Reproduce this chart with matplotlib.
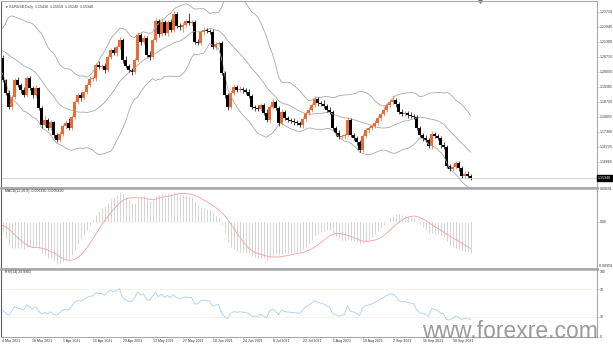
import numpy as np
import pandas as pd
import matplotlib
matplotlib.use("Agg")
import matplotlib.pyplot as plt

W, H = 613, 345

# daily closes before the visible window, only used to warm up the indicators
warmup_close = [1.2248, 1.2298, 1.2324, 1.2271, 1.2220, 1.2151, 1.2208, 1.2158, 1.2157, 1.2081,
                1.2076, 1.2132, 1.2107, 1.2164, 1.2170, 1.2141, 1.2159, 1.2110, 1.2124, 1.2136,
                1.2060, 1.2040, 1.2037, 1.1963, 1.2047, 1.2050, 1.2118, 1.2119, 1.2131, 1.2118,
                1.2128, 1.2105, 1.2040, 1.2091, 1.2120, 1.2157, 1.2150, 1.2167, 1.2176, 1.2075,
                1.2048, 1.2090, 1.2066]

first_open = 1.2066
close = [1.1969, 1.1911, 1.1849, 1.1893, 1.1969, 1.1947, 1.1924, 1.1902, 1.1978, 1.1933,
         1.1902, 1.1933, 1.1844, 1.1769, 1.1791, 1.1756, 1.1782, 1.1725, 1.1702, 1.1729,
         1.1765, 1.1778, 1.1756, 1.1805, 1.1871, 1.1902, 1.1889, 1.1915, 1.1947, 1.1973,
         1.1978, 1.2035, 1.2027, 1.2031, 1.2013, 1.2071, 1.2102, 1.2089, 1.2115, 1.2146,
         1.2058, 1.2031, 1.2013, 1.2004, 1.2058, 1.2169, 1.2138, 1.2155, 1.2080, 1.2071,
         1.2146, 1.2231, 1.2173, 1.2226, 1.2177, 1.2226, 1.2191, 1.2262, 1.2209, 1.2204,
         1.2213, 1.2231, 1.2222, 1.2226, 1.2138, 1.2133, 1.2182, 1.2191, 1.2186, 1.2182,
         1.2115, 1.2129, 1.2133, 1.2000, 1.1902, 1.1849, 1.1911, 1.1938, 1.1924, 1.1929,
         1.1924, 1.1915, 1.1898, 1.1849, 1.1844, 1.1840, 1.1858, 1.1822, 1.1791, 1.1849,
         1.1871, 1.1844, 1.1778, 1.1827, 1.1800, 1.1791, 1.1787, 1.1782, 1.1778, 1.1769,
         1.1796, 1.1822, 1.1836, 1.1858, 1.1884, 1.1867, 1.1862, 1.1853, 1.1836, 1.1827,
         1.1756, 1.1733, 1.1716, 1.1720, 1.1725, 1.1791, 1.1725, 1.1711, 1.1693, 1.1658,
         1.1720, 1.1747, 1.1756, 1.1765, 1.1778, 1.1800, 1.1818, 1.1836, 1.1858, 1.1871,
         1.1880, 1.1862, 1.1827, 1.1818, 1.1822, 1.1813, 1.1809, 1.1805, 1.1756, 1.1725,
         1.1711, 1.1702, 1.1676, 1.1729, 1.1720, 1.1711, 1.1680, 1.1671, 1.1587, 1.1574,
         1.1583, 1.1600, 1.1578, 1.1543, 1.1551, 1.1543, 1.1534]

# wick lengths in pips above / below the body
wick_hi = [12, 6, 14, 10, 8, 14, 8, 12, 9, 10, 7, 12, 5, 9, 22, 8, 10, 6, 8, 14,
           10, 12, 20, 8, 10, 9, 14, 7, 9, 12, 10, 8, 18, 9, 12, 7, 10, 12, 8, 14,
           10, 16, 9, 7, 8, 12, 10, 14, 9, 18, 10, 12, 8, 14, 10, 9, 12, 18, 10, 14,
           12, 10, 35, 9, 8, 14, 10, 12, 9, 10, 12, 8, 10, 9, 10, 8, 12, 14, 10, 12,
           9, 10, 14, 8, 10, 12, 9, 10, 16, 10, 18, 9, 10, 12, 8, 10, 9, 12, 10, 8,
           10, 9, 12, 10, 14, 8, 10, 16, 9, 12, 10, 8, 12, 9, 10, 12, 10, 9, 8, 10,
           12, 9, 10, 8, 12, 10, 9, 12, 10, 14, 22, 10, 8, 12, 9, 10, 12, 9, 8, 10,
           9, 12, 10, 14, 9, 10, 8, 12, 10, 9, 12, 10, 9, 10, 14, 12, 8]
wick_lo = [8, 10, 9, 14, 10, 8, 12, 9, 10, 8, 12, 9, 10, 12, 8, 10, 9, 12, 10, 9,
           8, 12, 10, 9, 8, 10, 12, 9, 10, 8, 9, 12, 8, 10, 14, 9, 10, 8, 12, 9,
           12, 10, 8, 14, 9, 10, 12, 9, 10, 14, 9, 10, 12, 8, 10, 12, 9, 10, 8, 12,
           20, 9, 10, 12, 10, 9, 8, 12, 10, 9, 10, 12, 9, 10, 12, 14, 10, 9, 8, 10,
           12, 9, 10, 8, 12, 10, 9, 10, 8, 12, 10, 9, 12, 10, 8, 9, 10, 12, 9, 10,
           12, 10, 9, 8, 10, 12, 9, 10, 8, 10, 9, 12, 10, 8, 12, 9, 10, 8, 12, 10,
           9, 10, 12, 8, 10, 9, 12, 10, 8, 9, 10, 12, 9, 10, 8, 12, 10, 9, 10, 8,
           12, 10, 9, 14, 10, 8, 12, 10, 9, 10, 8, 10, 12, 9, 10, 8, 10]

date_labels = ["4 Mar 2021", "18 Mar 2021", "1 Apr 2021", "15 Apr 2021", "29 Apr 2021",
               "13 May 2021", "27 May 2021", "10 Jun 2021", "24 Jun 2021", "8 Jul 2021",
               "22 Jul 2021", "5 Aug 2021", "19 Aug 2021", "2 Sep 2021", "16 Sep 2021",
               "30 Sep 2021"]

price_ticks = [1.22710, 1.22045, 1.21380, 1.20715, 1.20050, 1.19385,
               1.18720, 1.18055, 1.17390, 1.16725, 1.16060]

BULL = "#ee6a34"
BEAR = "#000000"
GRID = "#a8a8a8"
TXT = "#303030"
FS = 2.5
plt.rcParams["font.family"] = ["Liberation Sans", "DejaVu Sans"]

# ---- data + indicators ----
c = np.array(close)
n = len(c)
o = np.r_[first_open, c[:-1]]
hi = np.maximum(o, c) + np.array(wick_hi) / 10000
lo = np.minimum(o, c) - np.array(wick_lo) / 10000
x = np.arange(n)

full = pd.Series(warmup_close + close)
k = len(warmup_close)
mid = full.rolling(20).mean()
sd = full.rolling(20).std(ddof=0)
upper = (mid + 2 * sd).values[k:]
lower = (mid - 2 * sd).values[k:]
mid = mid.values[k:]

macd = full.ewm(span=12, adjust=False).mean() - full.ewm(span=26, adjust=False).mean()
signal = macd.rolling(9).mean()
macd = macd.values[k:]
signal = signal.values[k:]

d = full.diff()
up = d.clip(lower=0).ewm(alpha=1 / 14, adjust=False).mean()
dn = (-d.clip(upper=0)).ewm(alpha=1 / 14, adjust=False).mean()
rsi = (100 - 100 / (1 + up / dn)).values[k:]


def box(x0, y0, x1, y1):
    return [x0 / W, 1 - y1 / H, (x1 - x0) / W, (y1 - y0) / H]


fig = plt.figure(figsize=(W / 100, H / 100), dpi=100, facecolor="white")
ax = fig.add_axes(box(1, 1, 597, 188))
ax_m = fig.add_axes(box(1, 188, 597, 269))
ax_r = fig.add_axes(box(1, 269, 597, 337))

xlim = (-0.5, -0.5 + 596 / 3)
for a in (ax, ax_m, ax_r):
    a.set_xlim(*xlim)
    a.set_facecolor("white")
    for s in a.spines.values():
        s.set_color(GRID)
        s.set_linewidth(0.8)
    a.spines["left"].set_color("#606060")
    a.yaxis.tick_right()
    a.tick_params(axis="y", length=1.2, width=0.4, colors=GRID, labelsize=FS,
                  labelcolor=TXT, pad=0.6)
    a.set_xticks([])
ax_m.spines["top"].set_linewidth(1.8)
ax_r.spines["top"].set_linewidth(1.8)
ax.spines["bottom"].set_linewidth(1.8)
ax_m.spines["bottom"].set_linewidth(1.8)

# ---- main price window ----
ax.set_ylim(1.14893, 1.23196)
ax.plot(x, upper, color="#a8a8a8", lw=0.6)
ax.plot(x, mid, color="#a8a8a8", lw=0.6)
ax.plot(x, lower, color="#a8a8a8", lw=0.6)

cols = np.where(c >= o, BULL, BEAR)
ax.vlines(x, lo, hi, colors=cols, lw=0.5)
body = np.where(np.abs(c - o) < 0.0002, 0.0002, np.abs(c - o))
ax.bar(x, body, bottom=np.minimum(o, c), width=0.7, color=cols, linewidth=0)

bid = c[-1]
ax.axhline(bid, color="#c0c0c0", lw=0.5)
ax.set_yticks(price_ticks)
ax.set_yticklabels([f"{v:.5f}" for v in price_ticks])
ax.text(1.002, bid, f"{bid:.5f}", transform=ax.get_yaxis_transform(), fontsize=FS,
        color="white", va="center", ha="left",
        bbox=dict(boxstyle="square,pad=0.2", fc="black", ec="black"))
ax.text(0.006, 0.978, "\u25bc EURUSD,Daily  " + "  ".join(f"{v:.5f}" for v in (o[-1], hi[-1], lo[-1], c[-1])),
        transform=ax.transAxes, fontsize=FS, color=TXT, va="top", ha="left")
ax.plot([n + 2], [1.2318], marker="v", color="#707070", ms=2.5, clip_on=False)

# ---- MACD window ----
ax_m.vlines(x, 0, macd, colors="#c4c4c4", lw=0.5)
ax_m.plot(x, signal, color="#f2a0a0", lw=0.6)
mtop, mbot = np.nanmax(macd) * 1.12, np.nanmin(macd) * 1.12
ax_m.set_ylim(mbot, mtop)
ax_m.set_yticks([mtop, 0])
ax_m.set_yticklabels([f"{mtop:.5f}", "0.00"])
ax_m.text(1.003, 0.01, f"{mbot:.5f}", transform=ax_m.transAxes, fontsize=FS,
          color=TXT, va="bottom", ha="left")
ax_m.text(0.006, 0.985, f"MACD(12,26,9) {macd[-1]:.6f} {signal[-1]:.6f}",
          transform=ax_m.transAxes, fontsize=FS, color=TXT, va="top", ha="left")

# ---- RSI window ----
ax_r.set_ylim(0, 100)
ax_r.axhline(70, color="#d8d8c0", lw=0.4, ls=(0, (1, 1)))
ax_r.axhline(30, color="#d8d8c0", lw=0.4, ls=(0, (1, 1)))
ax_r.plot(x, rsi, color="#b4d6ec", lw=0.7)
ax_r.set_yticks([70, 30, 0])
ax_r.set_yticklabels(["70", "30", "0"])
ax_r.text(1.004, 0.99, "100", transform=ax_r.transAxes, fontsize=FS,
          color=TXT, va="top", ha="left")
ax_r.text(0.006, 0.985, f"RSI(14) {rsi[-1]:.4f}", transform=ax_r.transAxes,
          fontsize=FS, color=TXT, va="top", ha="left")

tick_pos = np.arange(0, n, 10)[:len(date_labels)]
for p, lab in zip(tick_pos, date_labels):
    ax_r.text(p, -3, lab, fontsize=FS, color=TXT, ha="left", va="top", clip_on=False)
    ax_r.plot([p, p], [0, -2], color=GRID, lw=0.4, clip_on=False)

fig.text(598 / W, 1 - 338 / H, "www.forexre.com", fontsize=16.5, color="#8a8a8a",
         alpha=0.85, ha="right", va="baseline", family="Liberation Sans")

fig.savefig("out.png", dpi=100, facecolor="white")
